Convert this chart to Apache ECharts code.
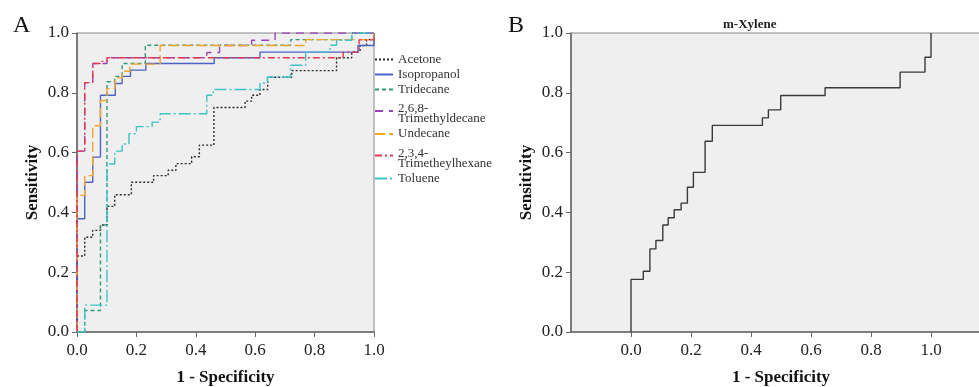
<!DOCTYPE html>
<html>
<head>
<meta charset="utf-8">
<script src="https://cdn.jsdelivr.net/npm/echarts@6/dist/echarts.min.js"></script>
<style>
  html, body { margin: 0; padding: 0; background: #fff; }
  #chart { width: 979px; height: 387px; }
</style>
</head>
<body>
<div id="chart"></div>
<script>
// panel A: ROC steps, x = 1 - specificity where the curve jumps, y = sensitivity after the jump
const acetoneX = [0, 0, 0.026, 0.053, 0.079, 0.101, 0.127, 0.183, 0.258, 0.307, 0.333, 0.386, 0.412, 0.461, 0.566, 0.588, 0.616, 0.642, 0.723, 0.874, 0.925, 0.953, 0.975, 1];
const acetoneY = [0, 0.254, 0.317, 0.34, 0.358, 0.42, 0.459, 0.501, 0.523, 0.541, 0.563, 0.586, 0.625, 0.751, 0.772, 0.792, 0.811, 0.852, 0.874, 0.917, 0.937, 0.958, 0.978, 1];

const isopropanolX = [0, 0, 0.026, 0.053, 0.079, 0.129, 0.152, 0.18, 0.232, 0.462, 0.616, 0.946, 1];
const isopropanolY = [0, 0.379, 0.501, 0.585, 0.792, 0.831, 0.855, 0.876, 0.898, 0.917, 0.936, 0.958, 1];

const tridecaneX = [0, 0.026, 0.079, 0.101, 0.127, 0.152, 0.23, 0.72, 0.925, 1];
const tridecaneY = [0, 0.072, 0.358, 0.837, 0.855, 0.898, 0.959, 0.978, 1, 1];

const trimethyldecaneX = [0, 0, 0.026, 0.053, 0.101, 0.437, 0.48, 0.588, 0.667, 1];
const trimethyldecaneY = [0, 0.605, 0.834, 0.898, 0.917, 0.935, 0.958, 0.976, 1, 1];

const undecaneX = [0, 0, 0.026, 0.053, 0.079, 0.101, 0.128, 0.152, 0.178, 0.28, 0.77, 1];
const undecaneY = [0, 0.457, 0.523, 0.69, 0.774, 0.814, 0.85, 0.872, 0.896, 0.958, 0.978, 1];

const trimethylhexaneX = [0, 0, 0.026, 0.053, 0.079, 0.101, 0.896, 0.95, 1];
const trimethylhexaneY = [0, 0.605, 0.834, 0.898, 0.905, 0.917, 0.936, 0.977, 1];

const tolueneX = [0, 0.026, 0.101, 0.127, 0.152, 0.175, 0.2, 0.253, 0.28, 0.437, 0.459, 0.616, 0.641, 0.719, 0.77, 0.852, 0.874, 0.925, 1];
const tolueneY = [0, 0.09, 0.562, 0.605, 0.629, 0.663, 0.687, 0.702, 0.73, 0.792, 0.811, 0.833, 0.853, 0.892, 0.936, 0.959, 0.976, 1, 1];

// panel B
const xyleneX = [0, 0, 0.041, 0.063, 0.083, 0.106, 0.124, 0.144, 0.167, 0.188, 0.208, 0.247, 0.271, 0.438, 0.458, 0.499, 0.647, 0.897, 0.98, 1];
const xyleneY = [0, 0.176, 0.203, 0.278, 0.306, 0.358, 0.382, 0.409, 0.431, 0.484, 0.534, 0.638, 0.691, 0.716, 0.743, 0.791, 0.817, 0.869, 0.919, 1];

const ticks = [0, 0.2, 0.4, 0.6, 0.8, 1.0];

// names that wrap onto two lines in the legend
const legendNames = {
  "2,6,8-Trimethyldecane": "{sp| }\n{t|2,6,8-}\n{t|Trimethyldecane}",
  "2,3,4-Trimetheylhexane": "{sp| }\n{t|2,3,4-}\n{t|Trimetheylhexane}"
};

const FONT = "Liberation Serif";
const AXIS = "#666";

function pairs(xs, ys) {
  return xs.map((x, i) => [x, ys[i]]);
}

function roc(name, xs, ys, color, type, grid) {
  return {
    name: name,
    type: "line",
    step: "end",
    xAxisIndex: grid,
    yAxisIndex: grid,
    symbol: "none",
    animation: false,
    data: pairs(xs, ys),
    lineStyle: { color: color, width: 1.4, type: type },
    itemStyle: { color: color }
  };
}

function valueAxis(grid, min, max, margin, extra) {
  return Object.assign({
    type: "value",
    gridIndex: grid,
    min: min,
    max: max,
    interval: 0.2,
    nameLocation: "middle",
    nameTextStyle: { fontFamily: FONT, fontWeight: "bold", fontSize: 17, color: "#111" },
    axisLine: { show: true, onZero: false, lineStyle: { color: AXIS, width: 1.5 } },
    axisTick: { show: true, length: 5, lineStyle: { color: AXIS } },
    axisLabel: {
      fontFamily: FONT, fontSize: 17, color: "#222", margin: margin,
      formatter: (v) => v.toFixed(1)
    },
    splitLine: { show: false }
  }, extra);
}

const chart = echarts.init(document.getElementById("chart"));

chart.setOption({
  backgroundColor: "#fff",
  title: [
    { text: "A", left: 13, top: 14, padding: 0, textStyle: { fontFamily: FONT, fontSize: 24, fontWeight: "normal", color: "#111" } },
    { text: "B", left: 508, top: 14, padding: 0, textStyle: { fontFamily: FONT, fontSize: 24, fontWeight: "normal", color: "#111" } },
    { text: "m-Xylene", left: 723, top: 18, padding: 0, textStyle: { fontFamily: FONT, fontSize: 13, fontWeight: "bold", color: "#222" } }
  ],
  legend: {
    orient: "vertical",
    left: 374,
    top: 53,
    itemWidth: 18,
    itemHeight: 10,
    itemGap: 2,
    padding: 0,
    itemStyle: { opacity: 0 },
    data: ["Acetone", "Isopropanol", "Tridecane", "2,6,8-Trimethyldecane", "Undecane", "2,3,4-Trimetheylhexane", "Toluene"],
    formatter: (n) => legendNames[n] || n,
    textStyle: {
      fontFamily: FONT, fontSize: 13, color: "#333", lineHeight: 10,
      rich: {
        sp: { fontSize: 4, lineHeight: 6 },
        t: { fontFamily: FONT, fontSize: 13, color: "#333", lineHeight: 10 }
      }
    }
  },
  grid: [
    { left: 77, top: 33, width: 297, height: 299, show: true, backgroundColor: "#efefef", borderColor: "#888", borderWidth: 1, outerBoundsMode: "none" },
    { left: 571, top: 33, width: 420, height: 299, show: true, backgroundColor: "#efefef", borderColor: "#888", borderWidth: 1, outerBoundsMode: "none" }
  ],
  xAxis: [
    valueAxis(0, 0, 1, 10, { name: "1 - Specificity", nameGap: 37 }),
    valueAxis(1, -0.2, 1.2, 10, {
      name: "1 - Specificity", nameGap: 37,
      axisTick: { show: true, length: 5, lineStyle: { color: AXIS }, customValues: ticks },
      axisLabel: { fontFamily: FONT, fontSize: 17, color: "#222", margin: 10, customValues: ticks, formatter: (v) => v.toFixed(1) }
    })
  ],
  yAxis: [
    valueAxis(0, 0, 1, 8, { name: "Sensitivity", nameGap: 36 }),
    valueAxis(1, 0, 1, 8, { name: "Sensitivity", nameGap: 36 })
  ],
  series: [
    roc("Acetone", acetoneX, acetoneY, "#2b2b2b", [2, 2], 0),
    roc("Isopropanol", isopropanolX, isopropanolY, "#4d63c6", "solid", 0),
    roc("Tridecane", tridecaneX, tridecaneY, "#2f9a72", [4, 3], 0),
    roc("2,6,8-Trimethyldecane", trimethyldecaneX, trimethyldecaneY, "#9a45b9", [8, 6], 0),
    roc("Undecane", undecaneX, undecaneY, "#f4a52a", [10, 4], 0),
    roc("2,3,4-Trimetheylhexane", trimethylhexaneX, trimethylhexaneY, "#e5364f", [7, 3, 2, 3], 0),
    roc("Toluene", tolueneX, tolueneY, "#3cc4c9", [12, 3, 2, 3], 0),
    roc("m-Xylene", xyleneX, xyleneY, "#3a3a3a", "solid", 1)
  ]
});
</script>
</body>
</html>
